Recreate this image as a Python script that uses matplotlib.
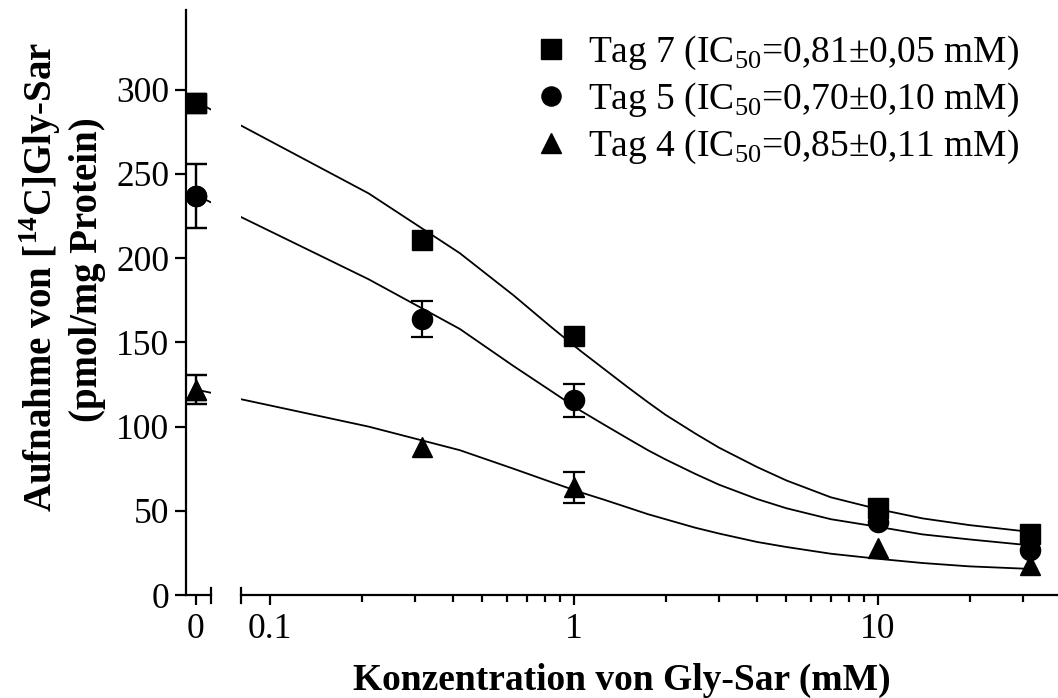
"""Gly-Sar uptake inhibition curves (Tag 4/5/7) with broken log x-axis."""

import matplotlib

matplotlib.use("Agg")
import matplotlib.pyplot as plt
import numpy as np

plt.rcParams["font.family"] = ["Liberation Serif", "DejaVu Serif"]
plt.rcParams["mathtext.fontset"] = "custom"
plt.rcParams["mathtext.rm"] = "Liberation Serif"
plt.rcParams["mathtext.bf"] = "Liberation Serif:bold"

# measured points (mean, SEM; 0 = error bar hidden behind the symbol)
conc = [0, 0.316, 1, 10, 31.6]
tag7_mean = [292, 211, 154, 51.5, 36.5]
tag7_sem = [0, 0, 0, 0, 0]
tag5_mean = [237, 164, 115.5, 43.5, 26.5]
tag5_sem = [19, 10.5, 9.7, 0, 0]
tag4_mean = [122, 88, 64, 28, 18]
tag4_sem = [8.5, 0, 9.2, 0, 0]

# fitted curves
fit_x = [0, 0.211, 0.421, 0.632, 0.843, 1.05, 1.26, 1.5, 1.75, 2, 2.5, 3, 4, 5, 7,
         10, 14, 20, 31.6]
fit_tag7 = [293, 238.5, 203, 178, 159, 145, 134, 123.5, 114.5, 107, 96, 87.5, 76,
            68, 58, 51, 45.5, 41.5, 37.5]
fit_tag5 = [237.5, 187.5, 158, 136, 121, 109.5, 101, 93, 86, 80.5, 72, 65.5, 57,
            51.5, 45, 40.5, 36, 33, 29.5]
fit_tag4 = [122, 100, 86, 75, 67, 61, 56.5, 52, 48, 45, 40, 36.5, 31.5, 28.5, 24.5,
            21.5, 19, 17, 15.5]

labels = [
    "Tag 7 (IC$_\\mathrm{50}$=0,81±0,05 mM)",
    "Tag 5 (IC$_\\mathrm{50}$=0,70±0,10 mM)",
    "Tag 4 (IC$_\\mathrm{50}$=0,85±0,11 mM)",
]
markers = ["s", "o", "^"]

W, H = 1058, 698
PX_ONE, PX_DECADE = 574.0, 304.0  # pixel of x=1 and pixels per decade
U_ZERO = (196 - PX_ONE) / PX_DECADE  # where x=0 sits on the left segment


def to_u(x):
    x = np.asarray(x, dtype=float)
    out = np.full(x.shape, U_ZERO)
    pos = x > 0
    out[pos] = np.log10(x[pos])
    return out


def px_u(px):
    return (px - PX_ONE) / PX_DECADE


def box(x0, x1, ytop, ybot):
    return [x0 / W, 1 - ybot / H, (x1 - x0) / W, (ybot - ytop) / H]


fig = plt.figure(figsize=(W / 100, H / 100), dpi=100)
ax_l = fig.add_axes(box(186, 211, 10, 595))
ax_r = fig.add_axes(box(241, 1057, 10, 595), sharey=ax_l)

LW = 1.6
series = [
    (tag7_mean, tag7_sem, fit_tag7),
    (tag5_mean, tag5_sem, fit_tag5),
    (tag4_mean, tag4_sem, fit_tag4),
]
u_conc = to_u(conc)
u_fit = to_u(fit_x)
handles = []
for ax in (ax_l, ax_r):
    for (mean, sem, fit), mk, lab in zip(series, markers, labels):
        ax.plot(u_fit, fit, color="black", lw=1.3, zorder=2)
        mean = np.asarray(mean)
        sem = np.asarray(sem)
        show = sem > 0
        if show.any():
            ax.errorbar(u_conc[show], mean[show], yerr=sem[show], fmt="none",
                        ecolor="black", elinewidth=LW, capsize=8, capthick=LW,
                        zorder=3, clip_on=False)
        (h,) = ax.plot(u_conc, mean, ls="none", marker=mk, ms=14.5, color="black",
                       zorder=4, clip_on=False, label=lab)
        if ax is ax_r:
            handles.append(h)

ax_l.set_ylim(0, (595 - 10) / 1.684)
ax_l.set_xlim(px_u(186), px_u(211))
ax_r.set_xlim(px_u(241), px_u(1057))

ax_l.set_yticks(np.arange(0, 301, 50))
ax_l.set_xticks([U_ZERO])
ax_l.set_xticklabels(["0"])
ax_r.set_xticks([-1, 0, 1])
ax_r.set_xticklabels(["0.1", "1", "10"])
minor = [k * 10.0**e for e in (-1, 0) for k in range(2, 10)] + [20, 30]
ax_r.set_xticks(np.log10(minor), minor=True)

for ax in (ax_l, ax_r):
    for side in ("top", "right"):
        ax.spines[side].set_visible(False)
    for side in ("left", "bottom"):
        ax.spines[side].set_linewidth(LW)
    ax.tick_params(axis="x", which="major", direction="out", length=7.2, width=LW,
                   labelsize=25.5, pad=5.5)
    ax.tick_params(axis="x", which="minor", direction="out", length=5, width=LW)
    ax.tick_params(axis="y", direction="out", length=8.2, width=LW,
                   labelsize=25.5, pad=3.6)
ax_r.spines["left"].set_visible(False)
ax_r.tick_params(axis="y", left=False, labelleft=False)

# end caps at the axis break
cap_lo, cap_hi = -8 / 585, 7 / 585
ax_l.plot([1, 1], [cap_lo, cap_hi], transform=ax_l.transAxes, color="black",
          lw=LW, clip_on=False)
ax_r.plot([0, 0], [cap_lo, cap_hi], transform=ax_r.transAxes, color="black",
          lw=LW, clip_on=False)

ax_r.legend(handles=handles, loc="upper left", bbox_to_anchor=(532 / W, 1 - 34 / H),
            bbox_transform=fig.transFigure, frameon=False, fontsize=27,
            handlelength=1.0, handletextpad=0.5, labelspacing=0.235, borderpad=0,
            borderaxespad=0, markerscale=0.95)

fig.text(622 / W, 1 - 690 / H, "Konzentration von Gly-Sar (mM)", ha="center",
         va="baseline", fontsize=27, fontweight="bold")
fig.text(52 / W, 1 - 277 / H, r"Aufnahme von [$^{\mathbf{14}}$C]Gly-Sar",
         rotation=90, rotation_mode="anchor", ha="center", va="baseline",
         fontsize=28, fontweight="bold")
fig.text(97 / W, 1 - 270 / H, "(pmol/mg Protein)", rotation=90,
         rotation_mode="anchor", ha="center", va="baseline", fontsize=28,
         fontweight="bold")

fig.savefig("out.png", dpi=100)
plt.close(fig)
